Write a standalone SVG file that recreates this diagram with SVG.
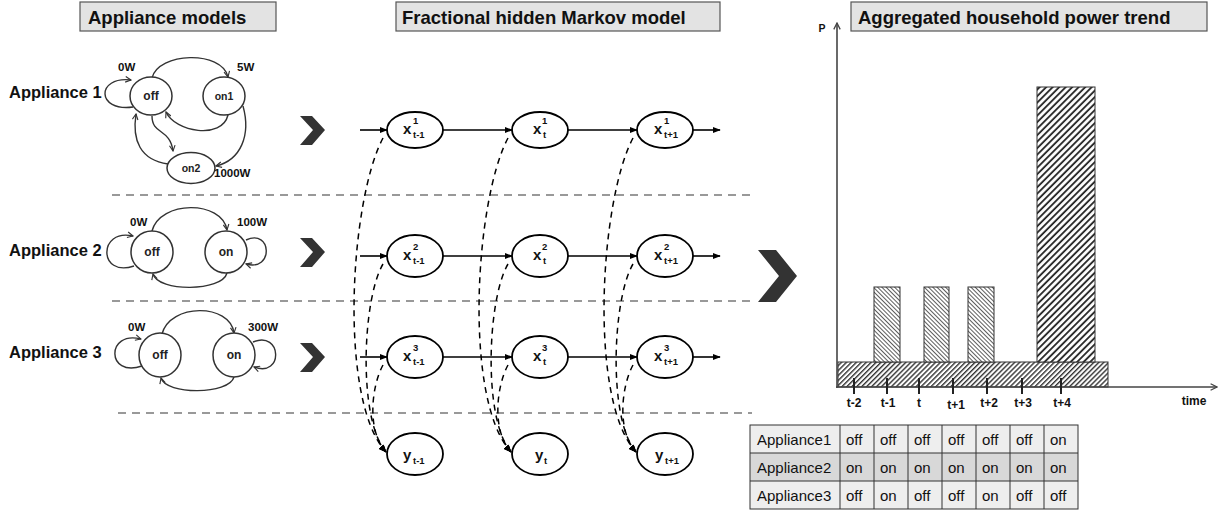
<svg xmlns="http://www.w3.org/2000/svg" width="1220" height="510" viewBox="0 0 1220 510">
<style>
.tbox{fill:#e3e3e3;stroke:#555;stroke-width:1.2}
.title{font-family:"Liberation Sans",Arial,sans-serif;font-weight:bold;font-size:18.5px;fill:#111}
.alabel{font-family:"Liberation Sans",Arial,sans-serif;font-weight:bold;font-size:16.5px;fill:#111}
.st{fill:#fff;stroke:#333;stroke-width:1.5}
.stt{font-family:"Liberation Sans",Arial,sans-serif;font-weight:bold;font-size:12px;fill:#222;text-anchor:middle}
.sts{font-size:10.5px}
.w{font-family:"Liberation Sans",Arial,sans-serif;font-weight:bold;font-size:11.5px;fill:#111}
.tr{fill:none;stroke:#333;stroke-width:1.4}
.sep{stroke:#999;stroke-width:2;stroke-dasharray:8 6;fill:none}
.hn{fill:#fff;stroke:#000;stroke-width:1.8}
.hx{font-family:"Liberation Sans",Arial,sans-serif;font-weight:bold;font-size:15px;fill:#111}
.hs{font-size:9.5px}
.hy{font-size:9.5px}
.hl{stroke:#000;stroke-width:1.6;fill:none}
.dl{stroke:#000;stroke-width:1.5;fill:none;stroke-dasharray:6 5}
.chev{fill:#333}
.axis{stroke:#444;stroke-width:1.6;fill:none}
.tick{stroke:#222;stroke-width:2}
.tl{font-family:"Liberation Sans",Arial,sans-serif;font-weight:bold;font-size:12px;fill:#111;text-anchor:middle}
.bar{stroke:#333;stroke-width:1}
.cell{stroke:#333;stroke-width:1}
.ct{font-family:"Liberation Sans",Arial,sans-serif;font-size:15px;fill:#111}
</style>
<defs>
<marker id="ah" viewBox="0 0 10 10" refX="9" refY="5" markerWidth="8" markerHeight="8" orient="auto" markerUnits="userSpaceOnUse"><path d="M0,1 L10,5 L0,9 z" fill="#000"/></marker>
<marker id="oa" viewBox="0 0 10 10" refX="9" refY="5" markerWidth="7" markerHeight="7" orient="auto" markerUnits="userSpaceOnUse"><path d="M1,1 L9,5 L1,9" fill="none" stroke="#333" stroke-width="1.6"/></marker>
<marker id="ax" viewBox="0 0 10 10" refX="9" refY="5" markerWidth="8" markerHeight="8" orient="auto" markerUnits="userSpaceOnUse"><path d="M1,1 L9,5 L1,9" fill="none" stroke="#444" stroke-width="1.6"/></marker>
<pattern id="hBase" width="3.5" height="3.5" patternUnits="userSpaceOnUse" patternTransform="rotate(45)"><rect width="3.5" height="3.5" fill="#fff"/><line x1="0.7" y1="0" x2="0.7" y2="3.5" stroke="#333" stroke-width="1.4"/></pattern>
<pattern id="hSmall" width="3" height="3" patternUnits="userSpaceOnUse" patternTransform="rotate(-45)"><rect width="3" height="3" fill="#fff"/><line x1="0.5" y1="0" x2="0.5" y2="3" stroke="#333" stroke-width="0.8"/></pattern>
<pattern id="hBig" width="4.6" height="4.6" patternUnits="userSpaceOnUse" patternTransform="rotate(45)"><rect width="4.6" height="4.6" fill="#fff"/><line x1="1" y1="0" x2="1" y2="4.6" stroke="#222" stroke-width="1.8"/></pattern>
</defs>
<rect width="1220" height="510" fill="#fff"/>

<!-- titles -->
<g id="title-appliance-models"><rect class="tbox" x="80" y="2" width="196" height="29"/><text class="title" x="88" y="24">Appliance models</text></g>
<g id="title-fhmm"><rect class="tbox" x="396" y="2" width="324" height="29"/><text class="title" x="402" y="24">Fractional hidden Markov model</text></g>
<g id="title-power"><rect class="tbox" x="851" y="2" width="356" height="29"/><text class="title" x="858" y="24">Aggregated household power trend</text></g>

<!-- separators -->
<g id="separators">
<line class="sep" x1="112" y1="195" x2="752" y2="195"/>
<line class="sep" x1="112" y1="301" x2="752" y2="301"/>
<line class="sep" x1="118" y1="413" x2="752" y2="413"/>
</g>

<!-- appliance labels -->
<text class="alabel" x="9" y="98">Appliance 1</text>
<text class="alabel" x="9" y="256">Appliance 2</text>
<text class="alabel" x="9" y="358">Appliance 3</text>

<!-- appliance 1 transitions -->
<g id="a1-connectors">
<path class="tr" d="M133,107 C96,112 96,76 131,80" marker-end="url(#oa)"/>
<path class="tr" d="M152,78 C158,52 222,50 228,77" marker-end="url(#oa)"/>
<path class="tr" d="M228,115 C222,140 175,132 166,112" marker-end="url(#oa)"/>
<path class="tr" d="M152,116 C152,135 170,128 173,151" marker-end="url(#oa)"/>
<path class="tr" d="M168,164 C140,160 132,140 136,114" marker-end="url(#oa)"/>
<path class="tr" d="M243,106 C251,135 241,160 216,166" marker-end="url(#oa)"/>
</g>
<g id="a1-off"><ellipse class="st" cx="151" cy="96" rx="21" ry="19"/><text class="stt" x="151" y="100">off</text></g>
<g id="a1-on1"><ellipse class="st" cx="224" cy="96" rx="21" ry="19"/><text class="stt sts" x="224" y="100">on1</text></g>
<g id="a1-on2"><ellipse class="st" cx="191" cy="168" rx="24" ry="15.5"/><text class="stt sts" x="191" y="172">on2</text></g>
<text class="w" x="118" y="71">0W</text>
<text class="w" x="237" y="71">5W</text>
<text class="w" x="214" y="177">1000W</text>

<!-- appliance 2 -->
<g id="a2-connectors">
<path class="tr" d="M134,266 C98,278 98,228 133,236" marker-end="url(#oa)"/>
<path class="tr" d="M246,240 C272,228 274,272 246,264" marker-end="url(#oa)"/>
<path class="tr" d="M152,231 C160,200 222,200 227,230" marker-end="url(#oa)"/>
<path class="tr" d="M227,273 C222,292 158,292 153,274" marker-end="url(#oa)"/>
</g>
<g id="a2-off"><ellipse class="st" cx="152" cy="252" rx="21" ry="21"/><text class="stt" x="152" y="256">off</text></g>
<g id="a2-on"><ellipse class="st" cx="226" cy="252" rx="21" ry="21"/><text class="stt" x="226" y="256">on</text></g>
<text class="w" x="130" y="226">0W</text>
<text class="w" x="237" y="226">100W</text>

<!-- appliance 3 -->
<g id="a3-connectors">
<path class="tr" d="M142,366 C106,378 106,330 141,339" marker-end="url(#oa)"/>
<path class="tr" d="M253,342 C282,330 284,378 254,367" marker-end="url(#oa)"/>
<path class="tr" d="M162,334 C170,303 230,303 234,333" marker-end="url(#oa)"/>
<path class="tr" d="M234,377 C229,395 166,395 161,378" marker-end="url(#oa)"/>
</g>
<g id="a3-off"><ellipse class="st" cx="160" cy="355" rx="21" ry="22"/><text class="stt" x="160" y="359">off</text></g>
<g id="a3-on"><ellipse class="st" cx="234" cy="355" rx="21" ry="22"/><text class="stt" x="234" y="359">on</text></g>
<text class="w" x="128" y="331">0W</text>
<text class="w" x="248" y="331">300W</text>

<!-- chevrons -->
<g id="chevrons">
<polygon class="chev" points="300,116 312,116 325,130 312,145 300,145 313,130"/>
<polygon class="chev" points="300,238 312,238 325,252 312,267 300,267 313,252"/>
<polygon class="chev" points="300,343 312,343 325,357 312,372 300,372 313,357"/>
<polygon class="chev" points="758,250 776,250 797,276 776,302 758,302 779,276"/>
</g>

<!-- HMM connectors -->
<g id="hmm-connectors">
<line class="hl" x1="360" y1="130" x2="387" y2="130" marker-end="url(#ah)"/>
<line class="hl" x1="443" y1="130" x2="512" y2="130" marker-end="url(#ah)"/>
<line class="hl" x1="568" y1="130" x2="637" y2="130" marker-end="url(#ah)"/>
<line class="hl" x1="693" y1="130" x2="720" y2="130" marker-end="url(#ah)"/>
<line class="hl" x1="360" y1="256" x2="387" y2="256" marker-end="url(#ah)"/>
<line class="hl" x1="443" y1="256" x2="512" y2="256" marker-end="url(#ah)"/>
<line class="hl" x1="568" y1="256" x2="637" y2="256" marker-end="url(#ah)"/>
<line class="hl" x1="693" y1="256" x2="720" y2="256" marker-end="url(#ah)"/>
<line class="hl" x1="360" y1="357" x2="387" y2="357" marker-end="url(#ah)"/>
<line class="hl" x1="443" y1="357" x2="512" y2="357" marker-end="url(#ah)"/>
<line class="hl" x1="568" y1="357" x2="637" y2="357" marker-end="url(#ah)"/>
<line class="hl" x1="693" y1="357" x2="720" y2="357" marker-end="url(#ah)"/>
<path class="dl" d="M383,138 C350,200 338,400 386,452" marker-end="url(#ah)"/>
<path class="dl" d="M383,264 C362,300 358,420 386,452" marker-end="url(#ah)"/>
<path class="dl" d="M383,365 C372,385 366,430 386,452" marker-end="url(#ah)"/>
<path class="dl" d="M508,138 C475,200 463,400 511,452" marker-end="url(#ah)"/>
<path class="dl" d="M508,264 C487,300 483,420 511,452" marker-end="url(#ah)"/>
<path class="dl" d="M508,365 C497,385 491,430 511,452" marker-end="url(#ah)"/>
<path class="dl" d="M633,138 C600,200 588,400 636,452" marker-end="url(#ah)"/>
<path class="dl" d="M633,264 C612,300 608,420 636,452" marker-end="url(#ah)"/>
<path class="dl" d="M633,365 C622,385 616,430 636,452" marker-end="url(#ah)"/>
</g>

<!-- HMM nodes -->
<g id="x1-tm1"><ellipse class="hn" cx="415" cy="130" rx="28" ry="18"/><text class="hx" x="403" y="134">x</text><text class="hx hs" x="413" y="124">1</text><text class="hx hs" x="413" y="138">t-1</text></g>
<g id="x1-t"><ellipse class="hn" cx="540" cy="130" rx="28" ry="18"/><text class="hx" x="533" y="134">x</text><text class="hx hs" x="542" y="124">1</text><text class="hx hs" x="543" y="138">t</text></g>
<g id="x1-tp1"><ellipse class="hn" cx="665" cy="130" rx="28" ry="18"/><text class="hx" x="654" y="134">x</text><text class="hx hs" x="664" y="124">1</text><text class="hx hs" x="664" y="138">t+1</text></g>

<g id="x2-tm1"><ellipse class="hn" cx="415" cy="256" rx="28" ry="21"/><text class="hx" x="403" y="260">x</text><text class="hx hs" x="413" y="250">2</text><text class="hx hs" x="413" y="264">t-1</text></g>
<g id="x2-t"><ellipse class="hn" cx="540" cy="256" rx="28" ry="21"/><text class="hx" x="533" y="260">x</text><text class="hx hs" x="542" y="250">2</text><text class="hx hs" x="543" y="264">t</text></g>
<g id="x2-tp1"><ellipse class="hn" cx="665" cy="256" rx="28" ry="21"/><text class="hx" x="654" y="260">x</text><text class="hx hs" x="664" y="250">2</text><text class="hx hs" x="664" y="264">t+1</text></g>

<g id="x3-tm1"><ellipse class="hn" cx="415" cy="357" rx="28" ry="21"/><text class="hx" x="403" y="361">x</text><text class="hx hs" x="413" y="351">3</text><text class="hx hs" x="413" y="365">t-1</text></g>
<g id="x3-t"><ellipse class="hn" cx="540" cy="357" rx="28" ry="21"/><text class="hx" x="533" y="361">x</text><text class="hx hs" x="542" y="351">3</text><text class="hx hs" x="543" y="365">t</text></g>
<g id="x3-tp1"><ellipse class="hn" cx="665" cy="357" rx="28" ry="21"/><text class="hx" x="654" y="361">x</text><text class="hx hs" x="664" y="351">3</text><text class="hx hs" x="664" y="365">t+1</text></g>

<g id="y-tm1"><ellipse class="hn" cx="415" cy="454" rx="28" ry="21"/><text class="hx" x="403" y="460">y</text><text class="hx hy" x="413" y="464">t-1</text></g>
<g id="y-t"><ellipse class="hn" cx="540" cy="454" rx="28" ry="21"/><text class="hx" x="535" y="460">y</text><text class="hx hy" x="544" y="464">t</text></g>
<g id="y-tp1"><ellipse class="hn" cx="665" cy="454" rx="28" ry="21"/><text class="hx" x="655" y="460">y</text><text class="hx hy" x="665" y="464">t+1</text></g>

<!-- chart -->
<g id="chart">
<rect class="bar" x="838" y="362" width="270" height="25" fill="url(#hBase)"/>
<rect class="bar" x="874" y="287" width="26" height="75" fill="url(#hSmall)"/>
<rect class="bar" x="924" y="287" width="25" height="75" fill="url(#hSmall)"/>
<rect class="bar" x="968" y="287" width="26" height="75" fill="url(#hSmall)"/>
<rect class="bar" x="1037" y="87" width="58" height="275" fill="url(#hBig)"/>
<line class="axis" x1="837" y1="388" x2="837" y2="23" marker-end="url(#ax)"/>
<line class="axis" x1="836" y1="387" x2="1217" y2="387" marker-end="url(#ax)"/>
<line class="tick" x1="854" y1="378" x2="854" y2="394"/>
<line class="tick" x1="887" y1="378" x2="887" y2="394"/>
<line class="tick" x1="919" y1="378" x2="919" y2="394"/>
<line class="tick" x1="953" y1="378" x2="953" y2="394"/>
<line class="tick" x1="987" y1="378" x2="987" y2="394"/>
<line class="tick" x1="1022" y1="378" x2="1022" y2="394"/>
<line class="tick" x1="1061" y1="378" x2="1061" y2="394"/>
<text class="tl" x="854" y="407">t-2</text>
<text class="tl" x="888" y="407">t-1</text>
<text class="tl" x="919" y="407">t</text>
<text class="tl" x="956" y="409">t+1</text>
<text class="tl" x="989" y="407">t+2</text>
<text class="tl" x="1023" y="407">t+3</text>
<text class="tl" x="1062" y="407">t+4</text>
<text class="tl" x="1194" y="405">time</text>
<text class="tl" x="822" y="32" style="font-size:10.5px">P</text>
</g>

<!-- table -->
<g id="state-table">
<rect x="750" y="425" width="328" height="28" fill="#eeeeee"/>
<rect x="750" y="453" width="328" height="28" fill="#d8d8d8"/>
<rect x="750" y="481" width="328" height="28" fill="#eeeeee"/>
<rect class="cell" x="750" y="425" width="328" height="84" fill="none"/>
<line class="cell" x1="750" y1="453" x2="1078" y2="453"/>
<line class="cell" x1="750" y1="481" x2="1078" y2="481"/>
<line class="cell" x1="840" y1="425" x2="840" y2="509"/>
<line class="cell" x1="874" y1="425" x2="874" y2="509"/>
<line class="cell" x1="908" y1="425" x2="908" y2="509"/>
<line class="cell" x1="942" y1="425" x2="942" y2="509"/>
<line class="cell" x1="976" y1="425" x2="976" y2="509"/>
<line class="cell" x1="1010" y1="425" x2="1010" y2="509"/>
<line class="cell" x1="1044" y1="425" x2="1044" y2="509"/>
<text class="ct" x="757" y="445">Appliance1</text>
<text class="ct" x="846" y="445">off</text><text class="ct" x="880" y="445">off</text><text class="ct" x="914" y="445">off</text><text class="ct" x="948" y="445">off</text><text class="ct" x="982" y="445">off</text><text class="ct" x="1016" y="445">off</text><text class="ct" x="1050" y="445">on</text>
<text class="ct" x="757" y="473">Appliance2</text>
<text class="ct" x="846" y="473">on</text><text class="ct" x="880" y="473">on</text><text class="ct" x="914" y="473">on</text><text class="ct" x="948" y="473">on</text><text class="ct" x="982" y="473">on</text><text class="ct" x="1016" y="473">on</text><text class="ct" x="1050" y="473">on</text>
<text class="ct" x="757" y="501">Appliance3</text>
<text class="ct" x="846" y="501">off</text><text class="ct" x="880" y="501">on</text><text class="ct" x="914" y="501">off</text><text class="ct" x="948" y="501">off</text><text class="ct" x="982" y="501">on</text><text class="ct" x="1016" y="501">off</text><text class="ct" x="1050" y="501">off</text>
</g>
</svg>
